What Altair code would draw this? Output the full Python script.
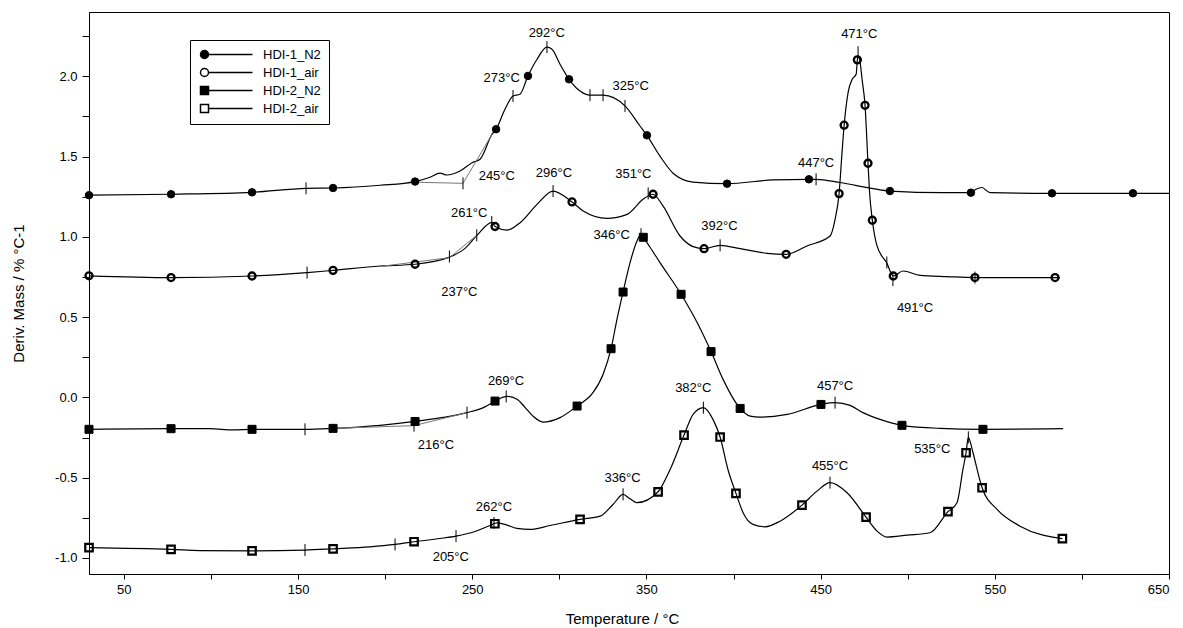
import altair as alt
import pandas as pd

SERIES = ["HDI-1_N2", "HDI-1_air", "HDI-2_N2", "HDI-2_air"]
FONT = "Liberation Sans"

# ---------------- HDI-1_N2 ----------------
n1_line = [(30.0, 1.259), (77.1, 1.265), (123.6, 1.277), (154.6, 1.302), (170.1, 1.304),
           (197.1, 1.321), (217.2, 1.344), (225.8, 1.371), (231.5, 1.396), (235.5, 1.385),
           (243.0, 1.410), (250.4, 1.464), (254.5, 1.483), (261.4, 1.639), (263.7, 1.670),
           (268.8, 1.794), (273.4, 1.877), (277.4, 1.888), (282.0, 2.002), (287.2, 2.106),
           (292.9, 2.181), (295.8, 2.168), (300.4, 2.075), (305.6, 1.981), (311.9, 1.908),
           (317.6, 1.882), (325.1, 1.882), (337.7, 1.815), (346.3, 1.690), (350.3, 1.632),
           (357.8, 1.502), (365.3, 1.396), (376.7, 1.341), (396.3, 1.331), (422.7, 1.354),
           (443.3, 1.358), (447.4, 1.358), (461.1, 1.338), (480.1, 1.300), (489.8, 1.285),
           (520.3, 1.275), (536.3, 1.275), (539.2, 1.296), (542.7, 1.307), (545.0, 1.290),
           (547.3, 1.275), (582.8, 1.271), (629.3, 1.271), (650.0, 1.271)]
n1_marks = [(30.0, 1.259), (77.1, 1.265), (123.6, 1.277), (170.1, 1.304), (217.2, 1.344),
            (263.7, 1.670), (282.0, 2.002), (305.6, 1.981), (350.3, 1.632), (396.3, 1.331),
            (443.3, 1.358), (489.8, 1.285), (536.3, 1.275), (582.8, 1.271), (629.3, 1.271)]
n1_ticks = [(154.6, 1.302), (244.7, 1.333), (273.4, 1.877), (292.9, 2.181), (317.6, 1.882),
            (325.1, 1.882), (337.7, 1.815), (447.4, 1.358)]

# ---------------- HDI-1_air ----------------
a1_line = [(30.0, 0.757), (77.1, 0.746), (123.6, 0.756), (155.2, 0.777), (170.1, 0.791),
           (197.1, 0.818), (217.2, 0.829), (236.1, 0.870), (245.9, 0.928), (252.7, 1.009),
           (261.4, 1.090), (263.1, 1.064), (270.0, 1.042), (277.5, 1.088), (287.2, 1.202),
           (296.4, 1.285), (307.3, 1.217), (313.7, 1.161), (327.4, 1.115), (338.9, 1.140),
           (348.1, 1.234), (353.8, 1.265), (359.5, 1.192), (369.3, 1.005), (376.8, 0.939),
           (383.1, 0.926), (392.3, 0.947), (403.8, 0.926), (419.2, 0.897), (430.2, 0.891),
           (442.2, 0.943), (455.4, 1.005), (458.3, 1.109), (460.6, 1.269), (462.3, 1.526),
           (463.5, 1.695), (465.8, 1.900), (468.1, 1.981), (470.4, 2.012), (471.1, 2.102),
           (471.5, 2.125), (472.6, 2.093), (473.8, 1.981), (475.5, 1.819), (477.2, 1.458),
           (478.1, 1.277), (479.7, 1.103), (482.4, 0.943), (487.9, 0.839), (491.7, 0.756),
           (497.3, 0.787), (507.1, 0.760), (522.6, 0.752), (538.6, 0.746), (584.6, 0.746),
           (587.4, 0.746)]
a1_marks = [(30.0, 0.757), (77.1, 0.746), (123.6, 0.756), (170.1, 0.791), (217.2, 0.829),
            (263.1, 1.064), (307.3, 1.217), (353.8, 1.265), (383.1, 0.926), (430.2, 0.891),
            (460.6, 1.269), (463.5, 1.695), (471.1, 2.102), (475.5, 1.819), (477.2, 1.458),
            (479.7, 1.103), (491.7, 0.756), (538.6, 0.746), (584.6, 0.746)]
a1_ticks = [(155.2, 0.777), (236.9, 0.877), (252.6, 1.009), (261.2, 1.092), (296.4, 1.285),
            (351.0, 1.270), (392.3, 0.947), (471.5, 2.150), (488.0, 0.840), (491.5, 0.730),
            (538.6, 0.746)]

# ---------------- HDI-2_N2 ----------------
n2_line = [(30.0, -0.199), (77.1, -0.195), (99.5, -0.195), (112.7, -0.203), (123.6, -0.199),
           (154.0, -0.199), (170.1, -0.193), (197.1, -0.174), (217.2, -0.150), (231.5, -0.128),
           (247.0, -0.095), (257.3, -0.059), (263.1, -0.023), (270.0, 0.006), (275.7, -0.012),
           (280.3, -0.062), (284.9, -0.117), (290.6, -0.154), (300.4, -0.126), (310.2, -0.054),
           (319.3, 0.029), (325.1, 0.143), (329.7, 0.303), (333.1, 0.486), (336.6, 0.656),
           (340.6, 0.839), (344.6, 0.974), (346.9, 1.016), (348.2, 0.997), (352.1, 0.935),
           (357.8, 0.839), (369.9, 0.642), (379.1, 0.466), (387.1, 0.285), (394.0, 0.112),
           (403.8, -0.069), (409.5, -0.117), (415.3, -0.123), (430.8, -0.106), (450.2, -0.044),
           (458.3, -0.033), (466.9, -0.050), (474.3, -0.095), (484.1, -0.137), (496.7, -0.174),
           (518.5, -0.193), (543.2, -0.199), (589.2, -0.195)]
n2_marks = [(30.0, -0.199), (77.1, -0.195), (123.6, -0.199), (170.1, -0.193), (217.2, -0.150),
            (263.1, -0.023), (310.2, -0.054), (329.7, 0.303), (336.6, 0.656), (348.2, 0.997),
            (369.9, 0.642), (387.1, 0.285), (403.8, -0.069), (450.2, -0.044), (496.7, -0.174),
            (543.2, -0.199)]
n2_ticks = [(154.0, -0.199), (216.6, -0.176), (247.0, -0.095), (269.5, 0.006), (346.9, 1.016),
            (458.3, -0.033)]

# ---------------- HDI-2_air ----------------
a2_line = [(30.0, -0.936), (77.1, -0.947), (93.8, -0.954), (123.6, -0.956), (154.0, -0.951),
           (170.1, -0.943), (191.3, -0.931), (205.7, -0.916), (216.6, -0.899), (231.5, -0.879),
           (240.7, -0.864), (251.6, -0.835), (260.2, -0.798), (264.2, -0.782), (268.8, -0.791),
           (275.7, -0.816), (283.2, -0.822), (294.7, -0.798), (311.9, -0.760), (323.4, -0.740),
           (330.8, -0.667), (336.6, -0.604), (340.6, -0.632), (344.6, -0.656), (356.7, -0.588),
           (363.6, -0.449), (371.6, -0.235), (376.8, -0.106), (382.7, -0.064), (388.2, -0.137),
           (392.3, -0.247), (396.8, -0.449), (401.4, -0.598), (405.5, -0.718), (411.2, -0.791),
           (418.1, -0.806), (426.7, -0.771), (439.3, -0.671), (447.9, -0.584), (455.4, -0.531),
           (465.2, -0.594), (476.1, -0.746), (482.4, -0.833), (488.1, -0.870), (499.6, -0.858),
           (512.8, -0.843), (523.1, -0.712), (528.3, -0.656), (531.7, -0.449), (533.5, -0.345),
           (534.8, -0.249), (535.8, -0.274), (537.5, -0.345), (542.7, -0.563), (551.3, -0.698),
           (564.5, -0.802), (588.8, -0.880)]
a2_marks = [(30.0, -0.936), (77.1, -0.947), (123.6, -0.956), (170.1, -0.943), (216.6, -0.899),
            (263.0, -0.787), (311.9, -0.760), (356.7, -0.588), (371.6, -0.235), (392.3, -0.247),
            (401.4, -0.598), (439.3, -0.671), (476.1, -0.746), (523.1, -0.712), (533.5, -0.345),
            (542.7, -0.563), (588.8, -0.880)]
a2_ticks = [(154.0, -0.951), (205.7, -0.916), (240.7, -0.864), (262.5, -0.782), (336.6, -0.604),
            (382.7, -0.064), (455.4, -0.531), (534.8, -0.249)]

# onset tangent construction lines (T1, y1, T2, y2)
tangents = [(217.2, 1.340, 244.7, 1.333), (244.7, 1.333, 261.4, 1.639),
            (197.1, 0.815, 236.9, 0.870), (236.9, 0.870, 252.6, 1.009),
            (170.1, -0.193, 216.6, -0.176), (216.6, -0.176, 247.0, -0.095)]

# annotations (text, T, y)
labels = [("292°C", 292.8, 2.272), ("273°C", 266.9, 1.992), ("325°C", 341.0, 1.940),
          ("245°C", 264.1, 1.379), ("447°C", 447.4, 1.462),
          ("296°C", 296.9, 1.400), ("351°C", 342.5, 1.389), ("261°C", 248.3, 1.151),
          ("237°C", 242.6, 0.656), ("392°C", 391.9, 1.067), ("471°C", 472.2, 2.262),
          ("491°C", 504.2, 0.559),
          ("346°C", 330.1, 1.009), ("269°C", 269.4, 0.102), ("216°C", 229.2, -0.299),
          ("457°C", 458.3, 0.070),
          ("382°C", 376.9, 0.060), ("262°C", 262.5, -0.685), ("205°C", 237.7, -0.995),
          ("336°C", 336.3, -0.500), ("455°C", 455.4, -0.428), ("535°C", 514.1, -0.324)]


def table(pairs, name):
    return pd.DataFrame({"T": [p[0] for p in pairs], "y": [p[1] for p in pairs], "series": name})


line_df = pd.concat([table(n1_line, SERIES[0]), table(a1_line, SERIES[1]),
                     table(n2_line, SERIES[2]), table(a2_line, SERIES[3])], ignore_index=True)
mark_df = pd.concat([table(n1_marks, SERIES[0]), table(a1_marks, SERIES[1]),
                     table(n2_marks, SERIES[2]), table(a2_marks, SERIES[3])], ignore_index=True)
tick_df = pd.concat([table(n1_ticks, SERIES[0]), table(a1_ticks, SERIES[1]),
                     table(n2_ticks, SERIES[2]), table(a2_ticks, SERIES[3])], ignore_index=True)
tan_df = pd.DataFrame(tangents, columns=["T", "y", "T2", "y2"])
lab_df = pd.DataFrame(labels, columns=["text", "T", "y"])

xscale = alt.Scale(domain=[30, 650], nice=False, zero=False)
yscale = alt.Scale(domain=[-1.1, 2.4], nice=False, zero=False)

xaxis = alt.Axis(values=list(range(50, 651, 50)),
                 labelExpr="datum.value % 100 == 50 ? datum.label : ''",
                 format="d", title="Temperature / °C", grid=False, tickSize=5,
                 labelPadding=4, titleX=533, titleY=44, titleBaseline="middle",
                 titleAlign="center")
yaxis = alt.Axis(values=[-1.0 + 0.25 * i for i in range(14)],
                 labelExpr="abs(datum.value * 2 - round(datum.value * 2)) < 0.001 ? replace(format(datum.value, '.1f'), '\u2212', '-') : ''",
                 title="Deriv. Mass / % °C-1", grid=False, tickSize=7, labelPadding=5,
                 titleAngle=-90, titleX=-71, titleY=281, titleAlign="center",
                 titleBaseline="middle")

X = alt.X("T:Q", scale=xscale, axis=xaxis)
Y = alt.Y("y:Q", scale=yscale, axis=yaxis)

lines = alt.Chart(line_df).mark_line(color="black", strokeWidth=1.2, interpolate="monotone").encode(
    x=X, y=Y, detail="series:N")

tans = alt.Chart(tan_df).mark_rule(color="#777777", strokeWidth=1).encode(
    x="T:Q", y="y:Q", x2="T2:Q", y2="y2:Q")

ticks = alt.Chart(tick_df).mark_point(shape="M0,-1L0,1", size=144, color="black",
                                      strokeWidth=1, filled=False, opacity=1).encode(
    x="T:Q", y="y:Q")

points = alt.Chart(mark_df).mark_point(filled=True, stroke="black", opacity=1).encode(
    x="T:Q", y="y:Q",
    shape=alt.Shape("series:N", scale=alt.Scale(domain=SERIES,
                                                range=["circle", "circle", "square", "square"]),
                    legend=None),
    fill=alt.Fill("series:N", scale=alt.Scale(domain=SERIES,
                                              range=["black", "transparent", "black", "transparent"]),
                  legend=None),
    size=alt.Size("series:N", scale=alt.Scale(type="ordinal", domain=SERIES,
                                              range=[56, 49, 64, 56]), legend=None),
    strokeWidth=alt.StrokeWidth("series:N", scale=alt.Scale(type="ordinal", domain=SERIES,
                                                            range=[1, 2.3, 1, 2.2]),
                                legend=None))

circ_path = "M-1,0A1,1,0,1,1,1,0A1,1,0,1,1,-1,0ZM1,0L12,0"
sq_path = "M-1,-1L1,-1L1,1L-1,1ZM1,0L12,0"
legend = alt.Legend(title=None, orient="none", legendX=101, legendY=28,
                    labelFont=FONT, labelFontSize=13, labelColor="black",
                    strokeColor="black", fillColor="white", padding=8,
                    symbolSize=64, symbolStrokeWidth=1.5,
                    labelOffset=52, rowPadding=3, symbolOpacity=1)
legend_layer = alt.Chart(mark_df).transform_filter(alt.datum.T < 0).mark_point(
    filled=True, size=64, strokeWidth=1.5).encode(
    x="T:Q", y="y:Q",
    stroke=alt.Stroke("series:N", scale=alt.Scale(domain=SERIES, range=["black"] * 4),
                      legend=legend),
    shape=alt.Shape("series:N", scale=alt.Scale(domain=SERIES,
                                                range=[circ_path, circ_path, sq_path, sq_path]),
                    legend=legend),
    fill=alt.Fill("series:N", scale=alt.Scale(domain=SERIES,
                                              range=["black", "white", "black", "white"]),
                  legend=legend))

texts = alt.Chart(lab_df).mark_text(font=FONT, fontSize=13, color="black", align="center",
                                    baseline="middle").encode(x="T:Q", y="y:Q", text="text:N")

chart = alt.layer(lines, tans, ticks, points, legend_layer, texts).resolve_scale(
    shape="independent", fill="independent", stroke="independent",
    size="independent", strokeWidth="independent"
).properties(
    width=1080, height=562,
    autosize=alt.AutoSizeParams(type="none"),
    padding={"left": 89, "top": 12, "right": 14, "bottom": 54},
    background="white"
).configure_view(stroke="black", strokeWidth=1).configure_axis(
    labelFont=FONT, titleFont=FONT, labelFontSize=13, titleFontSize=15,
    labelColor="black", titleColor="black", domainColor="black", tickColor="black",
    titleFontWeight="normal", domainWidth=1, tickWidth=1
)

chart.save("out.html", embed_options={"renderer": "svg", "actions": False})
